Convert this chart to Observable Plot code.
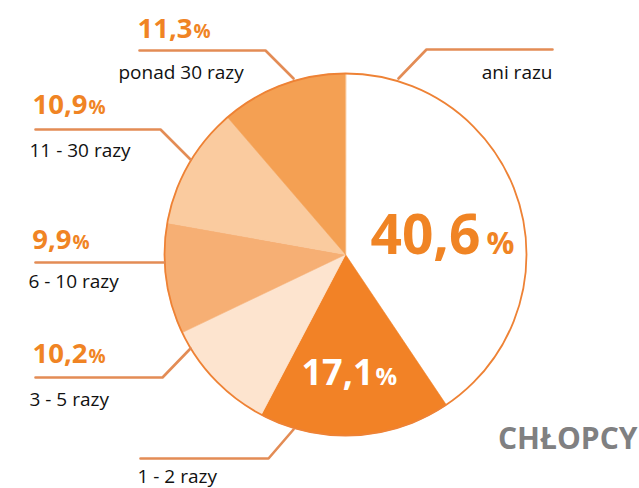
<!DOCTYPE html>
<html><head><meta charset="utf-8">
<script src="https://cdn.jsdelivr.net/npm/d3@7"></script>
<script src="https://cdn.jsdelivr.net/npm/@observablehq/plot@0.6"></script>
<style>body{margin:0;background:#fff;}</style>
</head><body><div id="chart"></div>
<script>
// ---- data ----
const categories = ["ani razu", "1 - 2 razy", "3 - 5 razy", "6 - 10 razy", "11 - 30 razy", "ponad 30 razy"];
const values = [40.6, 17.1, 10.2, 9.9, 10.9, 11.3];
const valueLabels = ["40,6", "17,1", "10,2", "9,9", "10,9", "11,3"];
const sliceColors = ["#ffffff", "#f28226", "#fde4cf", "#f6af74", "#facb9f", "#f4a053"];
const groupTitle = "CHŁOPCY";

// ---- layout (pixels) ----
const W = 639, H = 488, CX = 345, CY = 254, R = 181;
const ORANGE = "#f08424", LEADER = "#e38c55";
const catLayout = [
  {x: 552, y: 78, anchor: "end"},
  {x: 137, y: 482.5, anchor: "start"},
  {x: 29, y: 405, anchor: "start"},
  {x: 28, y: 287, anchor: "start"},
  {x: 29, y: 156, anchor: "start"},
  {x: 118, y: 78, anchor: "start"}
];
const valLayout = [
  {numEnd: 480, pct: 486, y: 253, size: 55, pctSize: 31, fill: ORANGE},
  {numEnd: 373, pct: 375, y: 384, size: 36, pctSize: 24, fill: "#ffffff"},
  {numEnd: 87, pct: 88, y: 362, size: 27.5, pctSize: 19, fill: ORANGE},
  {numEnd: 71, pct: 72, y: 248, size: 27.5, pctSize: 19, fill: ORANGE},
  {numEnd: 87, pct: 88, y: 113, size: 27.5, pctSize: 19, fill: ORANGE},
  {numEnd: 192, pct: 193, y: 37, size: 27.5, pctSize: 19, fill: ORANGE}
];
const leaderLayout = [
  [[398, 78], [426, 49], [552, 49]],
  [[293, 429], [268, 458], [140, 458]],
  [[190, 348], [162, 377], [35, 377]],
  [[164, 262], [35, 262]],
  [[190, 159], [160, 129], [35, 129]],
  [[293, 78], [265, 50], [139, 50]]
];

// ---- geometry from data ----
const arcs = d3.pie().sort(null).value(d => d)(values);
const slices = arcs.map((a, i) => {
  const pts = [{x: CX, y: CY}];
  const n = Math.max(2, Math.ceil((a.endAngle - a.startAngle) / (Math.PI / 360)));
  for (let k = 0; k <= n; k++) {
    const t = a.startAngle + (a.endAngle - a.startAngle) * k / n;
    pts.push({x: CX + R * Math.sin(t), y: CY - R * Math.cos(t)});
  }
  return {pts, color: sliceColors[i]};
});
const leaders = leaderLayout.flatMap((l, i) => l.map(([x, y]) => ({x, y, id: categories[i]})));
const catRows = categories.map((c, i) => ({text: c, ...catLayout[i]}));
const valRows = valueLabels.map((v, i) => ({text: v, ...valLayout[i]}));

const FONT = "'Open Sans', sans-serif";

const marks = [
  ...slices.map(s => Plot.line(s.pts, {x: "x", y: "y", fill: s.color, stroke: s.color, strokeWidth: 0.6, curve: "linear-closed"})),
  Plot.dot([{x: CX, y: CY}], {x: "x", y: "y", r: R, fill: "none", stroke: "#ee8235", strokeWidth: 1.8}),
  Plot.line(leaders, {x: "x", y: "y", z: "id", stroke: LEADER, strokeWidth: 2.6}),
  ...catRows.map(r => Plot.text([r], {x: "x", y: "y", text: "text", textAnchor: r.anchor, lineAnchor: "bottom", fontSize: 19, fill: "#111", fontFamily: FONT})),
  ...valRows.map(r => Plot.text([r], {x: "numEnd", y: "y", text: "text", textAnchor: "end", lineAnchor: "bottom", fontSize: r.size, fontWeight: 700, fill: r.fill, fontFamily: FONT})),
  ...valRows.map(r => Plot.text([r], {x: "pct", y: "y", text: () => "%", textAnchor: "start", lineAnchor: "bottom", fontSize: r.pctSize, fontWeight: 700, fill: r.fill, fontFamily: FONT})),
  Plot.text([{x: 637, y: 448, text: groupTitle}], {x: "x", y: "y", text: "text", textAnchor: "end", lineAnchor: "bottom", fontSize: 30, fontWeight: 700, fill: "#808081", fontFamily: FONT})
];

const chart = Plot.plot({
  width: W, height: H,
  margin: 0,
  x: {domain: [0, W], range: [0, W], axis: null},
  y: {domain: [0, H], range: [0, H], axis: null},
  style: {background: "#fff", fontFamily: FONT, overflow: "visible"},
  marks
});
document.getElementById("chart").appendChild(chart);
</script>
</body></html>
